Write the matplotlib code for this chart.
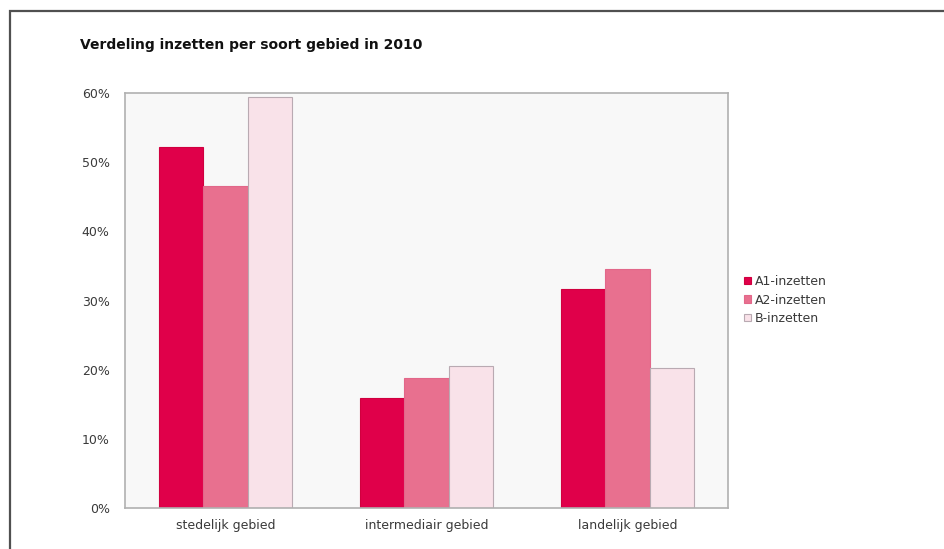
import numpy as np
import matplotlib.pyplot as plt
from matplotlib.patches import Rectangle

categories = ['stedelijk gebied', 'intermediair gebied', 'landelijk gebied']
series = ['A1-inzetten', 'A2-inzetten', 'B-inzetten']
a1 = [52.2, 15.9, 31.6]
a2 = [46.5, 18.8, 34.5]
b = [59.4, 20.6, 20.2]
yticks = [0, 10, 20, 30, 40, 50, 60]

colors = ['#e0004a', '#e8708f', '#f9e2e9']
edges = ['#d0003f', '#e2678a', '#b9aab2']

plt.rcParams['font.family'] = ['DejaVu Sans']

fig = plt.figure(figsize=(9.45, 5.49), dpi=100)
fig.patch.set_facecolor('white')

# dark frame around the whole graphic (runs off right and bottom)
fig.patches.append(Rectangle((10 / 945, -0.1), 1.2, 1 - 11 / 549 + 0.1,
                             transform=fig.transFigure, fill=False,
                             edgecolor='#505050', linewidth=1.6))

ax = fig.add_axes([125 / 945, 41 / 549, 603 / 945, 415 / 549])
ax.set_facecolor('#f8f8f8')

x = np.arange(len(categories))
w = 0.222
for i, (name, vals) in enumerate(zip(series, [a1, a2, b])):
    ax.bar(x + (i - 1) * w, vals, width=w, color=colors[i],
           edgecolor=edges[i], linewidth=0.8, label=name)

ax.set_xlim(-0.5, 2.5)
ax.set_ylim(0, 60)
ax.set_yticks(yticks)
ax.set_yticklabels([f'{t}%' for t in yticks])
ax.set_xticks(x)
ax.set_xticklabels(categories)
ax.tick_params(length=0, labelsize=9, colors='#3a3a3a')
ax.tick_params(axis='y', pad=11)
ax.tick_params(axis='x', pad=8)
for s in ax.spines.values():
    s.set_color('#b0b0b0')
    s.set_linewidth(1.2)

fig.text(80 / 945, 1 - 45 / 549, 'Verdeling inzetten per soort gebied in 2010',
         fontsize=10, fontweight='bold', color='#111111', va='center')

leg = ax.legend(loc='center left', bbox_to_anchor=(733 / 945, 1 - 300 / 549),
                bbox_transform=fig.transFigure, frameon=False, fontsize=9,
                handlelength=0.55, handleheight=0.55, handletextpad=0.3,
                labelspacing=0.45)
for t in leg.get_texts():
    t.set_color('#3a3a3a')

fig.savefig('out.png', dpi=100)
